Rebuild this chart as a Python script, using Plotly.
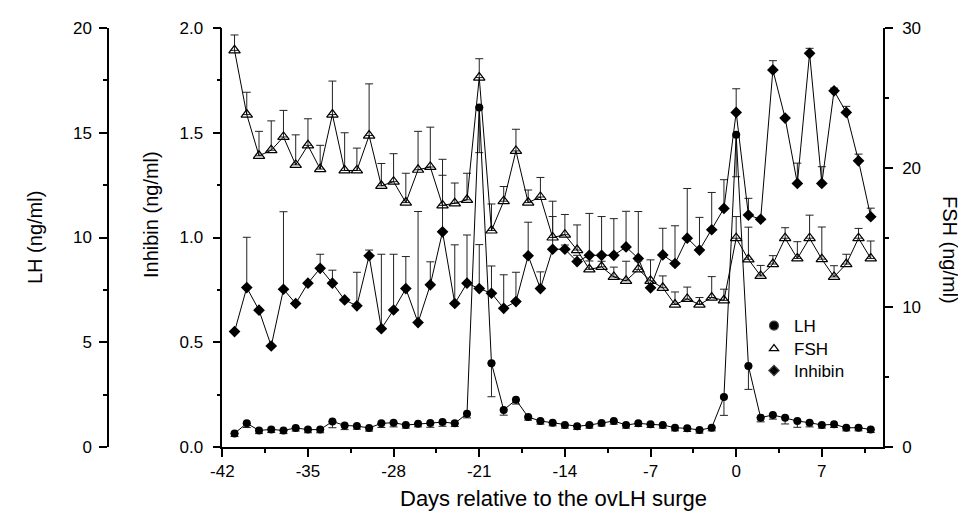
import plotly.graph_objects as go

days = list(range(-41, 12))

lh = [0.65, 1.13, 0.79, 0.84, 0.79, 0.91, 0.83, 0.83, 1.22, 1.03,
      1.00, 0.91, 1.13, 1.16, 1.05, 1.11, 1.14, 1.19, 1.13, 1.59,
      16.2, 4.00, 1.77, 2.25, 1.43, 1.24, 1.16, 1.05, 0.99, 1.05,
      1.15, 1.24, 1.05, 1.13, 1.08, 1.05, 0.92, 0.89, 0.81, 0.92,
      2.39, 14.9, 3.87, 1.40, 1.53, 1.40, 1.24, 1.16, 1.05, 1.08,
      0.92, 0.92, 0.84]
lh_err = [0.15, 0.2, 0.15, 0.15, 0.15, 0.15, 0.15, 0.15, 0.3, 0.2,
          0.15, 0.15, 0.2, 0.2, 0.15, 0.15, 0.2, 0.2, 0.15, 0.2,
          2.15, 1.6, 0.25, 0.2, 0.15, 0.15, 0.15, 0.15, 0.15, 0.15,
          0.15, 0.15, 0.15, 0.15, 0.15, 0.15, 0.15, 0.15, 0.15, 0.15,
          0.88, 2.0, 1.12, 0.2, 0.2, 0.3, 0.3, 0.2, 0.15, 0.15,
          0.15, 0.15, 0.15]

fsh = [28.4, 23.8, 20.85, 21.25, 22.2, 20.2, 21.6, 19.9, 23.8, 19.8,
       19.8, 22.3, 18.7, 19.0, 17.5, 19.85, 20.05, 17.3, 17.45, 17.7,
       26.45, 15.5, 17.6, 21.2, 17.5, 17.9, 15.0, 15.2, 14.1, 12.72,
       12.9, 12.18, 11.9, 12.72, 11.9, 11.4, 10.2, 10.6, 10.2, 10.7,
       10.5, 14.95, 13.44, 12.25, 13.1, 14.95, 13.5, 14.95, 13.45, 12.18,
       13.1, 14.95, 13.5]
fsh_err = [1.1, 1.6, 1.75, 2.1, 1.9, 2.15, 1.9, 1.7, 2.4, 2.7,
           1.6, 3.7, 1.6, 2.0, 2.1, 2.75, 2.85, 3.3, 1.45, 1.9,
           1.35, 1.9, 1.05, 1.55, 0.9, 1.4, 2.6, 1.45, 1.8, 0.6,
           0.4, 0.7, 1.4, 0.6, 1.5, 0.85, 0.9, 0.85, 0.5, 1.5,
           0.8, 1.55, 2.3, 0.75, 0.6, 0.75, 1.2, 1.65, 2.3, 0.8,
           0.7, 0.7, 1.25]

inhibin = [0.551, 0.761, 0.653, 0.482, 0.753, 0.685, 0.782, 0.853, 0.782, 0.702,
           0.674, 0.913, 0.565, 0.654, 0.756, 0.594, 0.774, 1.027, 0.685, 0.782,
           0.756, 0.734, 0.662, 0.694, 0.913, 0.756, 0.944, 0.944, 0.885, 0.915,
           0.915, 0.915, 0.955, 0.900, 0.760, 0.917, 0.876, 0.997, 0.940, 1.037,
           1.139, 1.597, 1.107, 1.087, 1.800, 1.570, 1.258, 1.879, 1.258, 1.700,
           1.597, 1.366, 1.099]
inhibin_err = [0.0, 0.24, 0.0, 0.0, 0.37, 0.0, 0.0, 0.067, 0.062, 0.0,
               0.16, 0.027, 0.355, 0.266, 0.153, 0.53, 0.11, 0.27, 0.28, 0.23,
               0.21, 0.13, 0.16, 0.14, 0.16, 0.08, 0.156, 0.02, 0.03, 0.2,
               0.185, 0.175, 0.17, 0.224, 0.0, 0.127, 0.18, 0.237, 0.156, 0.178,
               0.137, 0.113, 0.08, 0.0, 0.044, 0.0, 0.097, 0.024, 0.08, 0.013,
               0.029, 0.032, 0.041]

x_ticks = [-42, -35, -28, -21, -14, -7, 0, 7]
legend_names = ["LH", "FSH", "Inhibin"]

FONT = "Arial, Liberation Sans, Helvetica, sans-serif"
zeros = [0] * len(days)

# plot-area geometry (pixels)
W, H = 966, 514
ML, MR, MT, MB = 100, 91, 20, 75
PW = W - ML - MR
PH = H - MT - MB


def px_x(p):
    return (p - ML) / PW


def px_y(p):
    return (H - MB - p) / PH


fig = go.Figure()

fig.add_trace(go.Scatter(
    x=days, y=inhibin, yaxis="y", mode="lines+markers", showlegend=False,
    line=dict(color="black", width=1),
    marker=dict(symbol="diamond", size=9, color="black"),
    error_y=dict(type="data", symmetric=False, array=inhibin_err, arrayminus=zeros,
                 color="#222", thickness=1, width=4),
))
fig.add_trace(go.Scatter(
    x=days, y=fsh, yaxis="y3", mode="lines+markers", showlegend=False,
    line=dict(color="black", width=1),
    marker=dict(symbol="triangle-up-open", size=10, color="black", line=dict(width=1.2)),
    error_y=dict(type="data", symmetric=False, array=fsh_err, arrayminus=zeros,
                 color="#222", thickness=1, width=4),
))
fig.add_trace(go.Scatter(
    x=days, y=lh, yaxis="y2", mode="lines+markers", showlegend=False,
    line=dict(color="black", width=1),
    marker=dict(symbol="circle", size=8, color="black"),
    error_y=dict(type="data", symmetric=False, array=zeros, arrayminus=lh_err,
                 color="#222", thickness=1, width=4),
))

# legend-only entries, each in its own legend so they can be placed exactly
legend_syms = [("circle", 9), ("triangle-up-open", 8), ("diamond", 8)]
legend_keys = ["legend", "legend2", "legend3"]
for name, (sym, size), key in zip(legend_names, legend_syms, legend_keys):
    fig.add_trace(go.Scatter(x=[None], y=[None], mode="markers", name=name, legend=key,
                             marker=dict(symbol=sym, size=size, color="black", line=dict(width=1.2))))

axis_common = dict(showline=True, linecolor="black", linewidth=1.5, ticks="outside",
                   tickcolor="black", tickwidth=1.5, ticklen=8, showgrid=False, zeroline=False,
                   tickfont=dict(family=FONT, size=17, color="black"))
minor_common = dict(ticks="outside", ticklen=4, tickwidth=1.5, tickcolor="black")

legend_style = dict(xanchor="left", yanchor="middle", bgcolor="rgba(0,0,0,0)",
                    font=dict(family=FONT, size=17, color="black"), itemwidth=30)
legend_x_px = 746
legend_y_px = [318, 341, 363]

title_font = dict(family=FONT, size=20, color="black")

fig.update_layout(
    width=W, height=H,
    margin=dict(l=ML, r=MR, t=MT, b=MB),
    paper_bgcolor="white", plot_bgcolor="white",
    font=dict(family=FONT, color="black"),
    xaxis=dict(domain=[px_x(214.3), 1], range=[-42, 12], tickmode="array", tickvals=x_ticks,
               ticktext=[str(v) for v in x_ticks],
               minor=dict(tick0=-42, dtick=3.5, **minor_common),
               **axis_common),
    yaxis=dict(range=[0, 2.0], anchor="x", side="left", tickmode="array",
               tickvals=[0, 0.5, 1.0, 1.5, 2.0], ticktext=["0.0", "0.5", "1.0", "1.5", "2.0"],
               minor=dict(tick0=0, dtick=0.25, **minor_common),
               ticklabelstandoff=6,
               **axis_common),
    yaxis2=dict(range=[0, 20], anchor="free", position=0, overlaying="y", side="left",
                tickmode="array", tickvals=[0, 5, 10, 15, 20],
                minor=dict(tick0=0, dtick=2.5, **minor_common),
                ticklabelstandoff=4,
                **axis_common),
    yaxis3=dict(range=[0, 30], anchor="x", overlaying="y", side="right",
                tickmode="array", tickvals=[0, 10, 20, 30],
                minor=dict(tick0=0, dtick=5, **minor_common),
                ticklabelstandoff=6,
                **axis_common),
    legend=dict(x=px_x(legend_x_px), y=px_y(legend_y_px[0]), **legend_style),
    legend2=dict(x=px_x(legend_x_px), y=px_y(legend_y_px[1]), **legend_style),
    legend3=dict(x=px_x(legend_x_px), y=px_y(legend_y_px[2]), **legend_style),
    annotations=[
        dict(text="LH (ng/ml)", xref="paper", yref="paper", x=px_x(27), y=px_y(230),
             xanchor="center", yanchor="middle",
             showarrow=False, textangle=-90, font=title_font),
        dict(text="Inhibin (ng/ml)", xref="paper", yref="paper", x=px_x(143), y=px_y(207),
             xanchor="center", yanchor="middle",
             showarrow=False, textangle=-90, font=title_font),
        dict(text="FSH (ng/ml)", xref="paper", yref="paper", x=px_x(942), y=px_y(242),
             xanchor="center", yanchor="middle",
             showarrow=False, textangle=90, font=title_font),
        dict(text="Days relative to the ovLH surge", xref="paper", yref="paper",
             x=px_x(545), y=px_y(490), xanchor="center", yanchor="middle",
             showarrow=False, font=dict(family=FONT, size=22, color="black")),
    ],
)

fig.write_html("out.html")
